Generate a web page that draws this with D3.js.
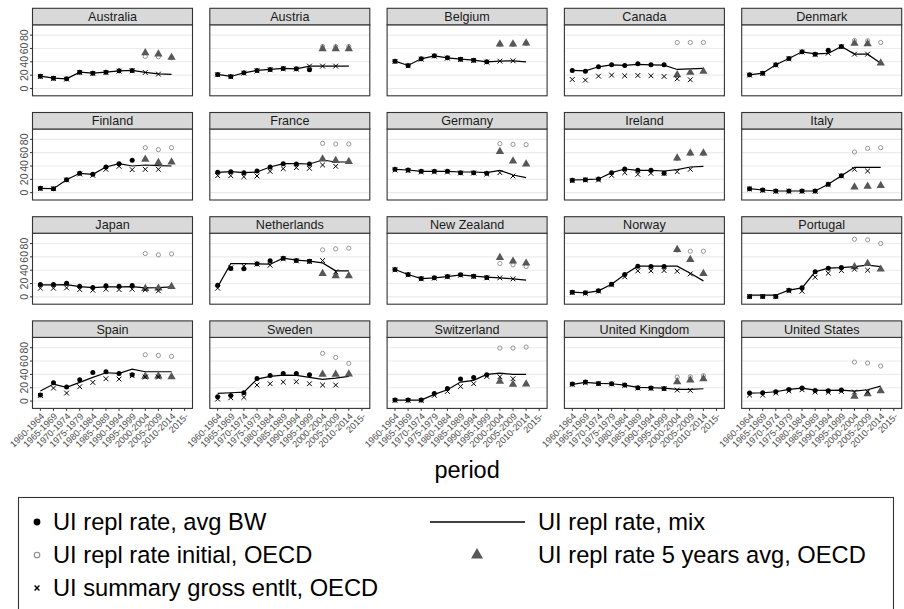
<!DOCTYPE html>
<html>
<head>
<meta charset="utf-8">
<script src="https://cdn.jsdelivr.net/npm/d3@7"></script>
<style>
  body { margin: 0; background: #fff; }
  text { font-family: "Liberation Sans", Arial, sans-serif; }
</style>
</head>
<body>
<div id="chart"></div>
<script>
const countries = ["Australia", "Austria", "Belgium", "Canada", "Denmark",
  "Finland", "France", "Germany", "Ireland", "Italy",
  "Japan", "Netherlands", "New Zealand", "Norway", "Portugal",
  "Spain", "Sweden", "Switzerland", "United Kingdom", "United States"];

const periods = ["1960-1964", "1965-1969", "1970-1974", "1975-1979", "1980-1984", "1985-1989",
  "1990-1994", "1995-1999", "2000-2004", "2005-2009", "2010-2014", "2015-"];

const yTicks = [0, 20, 40, 60, 80];

// UI repl rate, avg BW : 1960-1964 .. 1995-1999
const replAvgBW = [
  [18.5, 15.5, 14.5, 24.5, 23, 24.5, 26.5, 27],
  [21, 18, 23.5, 27, 28.5, 30, 29.5, 28],
  [41, 34.5, 44.5, 49, 46, 44, 42.5, 40],
  [27, 26, 32.5, 35.5, 34.5, 37, 35.5, 35.5],
  [20.5, 23, 35.5, 45, 55, 51.5, 57.5, 63],
  [6.5, 6, 19.5, 29, 27.5, 38.5, 43.5, 48.5],
  [30.5, 31.5, 30, 32.5, 38.5, 43.5, 43, 43],
  [35, 34, 32, 32, 32, 30, 30, 29],
  [18.5, 19.5, 20.5, 30, 35.5, 33.5, 33.5, 29],
  [6, 4, 2.5, 2.5, 2.5, 2.5, 12.5, 25.5],
  [18.5, 18.5, 20.5, 16, 14, 16.5, 16, 17],
  [17.5, 42.5, 42, 49.5, 54, 58, 54.5, 53.5],
  [41, 33.5, 27.5, 28.5, 30.5, 33, 31, 29],
  [7, 6, 9, 19, 33.5, 46, 45.5, 45.5],
  [0.5, 0.5, 0.5, 10, 13.5, 37.5, 43, 44],
  [9, 27.5, 21, 32, 43, 44, 41.5, 39.5],
  [6.5, 8.5, 12.5, 34, 38.5, 41.5, 41.5, 39.5],
  [1.5, 1.5, 1.5, 11.5, 19, 33, 35.5, 39.5],
  [25.5, 28.5, 26.5, 26, 24, 20, 19.5, 19],
  [12, 12.5, 14, 17.5, 19.5, 16, 15.5, 16.5]
];

// UI repl rate, mix : 1960-1964 .. 2010-2014
const replMix = [
  [18.5, 15.5, 14.5, 24.5, 23, 24.5, 26.5, 27, 24, 22, 21],
  [21, 18, 23.5, 27, 28.5, 30, 29.5, 33.5, 33.5, 33.5, 33.5],
  [41, 34.5, 44.5, 49, 46, 44, 42.5, 40, 41, 41.5, 40],
  [27, 26.5, 32.5, 35.5, 34.5, 36, 35.5, 35, 28.5, 29.5, 30],
  [20.5, 23, 35.5, 45, 55, 52, 52.5, 63, 51.5, 51.5, 38],
  [6.5, 6, 19.5, 29, 27.5, 38.5, 43.5, 40, 41.5, 40.5, 40],
  [30.5, 31.5, 30, 31, 38.5, 43.5, 43.5, 43, 49, 46, 46],
  [35, 34, 32, 32, 32, 31, 31, 30, 33.5, 26.5, 22.5],
  [19, 19.5, 20.5, 30, 35.5, 33.5, 33.5, 32.5, 34.5, 38.5, 39.5],
  [6, 4, 2.5, 2.5, 2.5, 2.5, 12.5, 25.5, 38, 38, 38],
  [18, 18, 18.5, 15.5, 14, 15, 15, 15.5, 13.5, 14, 15],
  [15, 50, 50, 49.5, 49, 58, 55, 53.5, 51, 39, 39],
  [41, 33.5, 27.5, 28.5, 30.5, 33, 31, 29.5, 28.5, 27, 25],
  [7, 6, 9, 19, 33.5, 46, 46, 46, 46, 35.5, 24],
  [2.5, 2.5, 2.5, 10, 13.5, 37.5, 43, 44, 45.5, 47.5, 45.5],
  [15, 25.5, 20.5, 28, 35.5, 42.5, 41.5, 48, 44, 44, 44],
  [11.5, 12.5, 13.5, 33, 37, 39, 38.5, 35.5, 32.5, 34.5, 37],
  [1.5, 1.5, 1.5, 10, 17, 28.5, 31, 40, 42, 40, 40],
  [25, 28, 26.5, 26, 24, 20.5, 20, 19.5, 17.5, 17.5, 18.5],
  [12, 12.5, 14, 17.5, 19.5, 16.5, 16, 16.5, 15, 17, 22.5]
];

// UI summary gross entlt, OECD : 1960-1964 .. 2005-2009
const grossEntlt = [
  [18, 15, 14, 24, 22.5, 24, 26, 26.5, 24, 21.5],
  [20.5, 17.5, 23, 26.5, 28, 29.5, 29, 33.5, 33.5, 33.5],
  [40.5, 34, 44, 48.5, 45.5, 43.5, 42, 39.5, 41, 41.5],
  [13.5, 12.5, 18.5, 20, 19, 19.5, 19, 18, 14.5, 13],
  [20, 22.5, 35, 44.5, 54.5, 51, 53, 62.5, 51.5, 51.5],
  [6, 6, 19, 28, 26, 35, 39.5, 34.5, 35, 35],
  [25.5, 25.5, 24, 25, 32, 36, 37.5, 36.5, 41.5, 39.5],
  [34, 33, 31, 31, 31, 29.5, 29.5, 28, 30, 25],
  [18, 19, 19, 26, 30, 27.5, 29, 29, 31.5, 35],
  [5.5, 3.5, 2, 2, 2, 2, 12, 25, 35, 32.5],
  [13, 13, 13.5, 11, 10, 11.5, 11, 11.5, 10.5, 9],
  [13, 43.5, 46, 49, 47.5, 57, 54, 53, 54.5, 37.5],
  [40.5, 33, 27, 28, 30, 32.5, 30.5, 28.5, 28.5, 27],
  [6.5, 5.5, 8.5, 18, 30, 39, 39, 39.5, 38.5, 34.5],
  [0.5, 0.5, 0.5, 9, 8.5, 29.5, 35.5, 39.5, 41.5, 40],
  [8.5, 19.5, 12, 21.5, 28, 33.5, 33, 38, 36, 36],
  [3, 5, 5.5, 24, 26, 28.5, 29, 26, 24, 24],
  [1, 1, 1, 8.5, 14.5, 22, 26, 37, 36.5, 33.5],
  [25, 27.5, 26, 25.5, 23.5, 19.5, 19, 18.5, 16.5, 16],
  [9, 9, 12, 15, 17, 13.5, 13, 14.5, 13.5, 14]
];

// OECD series : 2000-2004, 2005-2009, 2010-2014
const oecdPeriods = ["2000-2004", "2005-2009", "2010-2014"];
const replInitial = [
  [48, 47.5, 46], [63, 63, 63], [66, 66, 67.5], [69, 69, 69], [72, 71.5, 69],
  [67.5, 64.5, 67.5], [74, 73, 73], [73.5, 72.5, 72], [51, 58.5, 58.5], [61, 66.5, 67.5],
  [65, 63, 64.5], [70.5, 72, 73], [50, 48, 45.5], [70, 68.5, 68.5], [86.5, 85.5, 80],
  [69.5, 68.5, 67], [71.5, 65.5, 56.5], [79.5, 79.5, 81], [36, 36.5, 38], [58.5, 57, 52.5]
];
const repl5yr = [
  [53.5, 51.5, 46.5], [59.5, 59.5, 59.5], [66.5, 66.5, 68], [20.5, 24, 25.5], [67.5, 67, 38],
  [50, 45, 46], [50.5, 48, 46.5], [61.5, 47.5, 43], [52, 59.5, 59.5], [8.5, 9.5, 10.5],
  [12.5, 13, 15.5], [35, 31.5, 31.5], [59, 53.5, 50.5], [71, 56, 35], [45, 50, 41.5],
  [37, 37.5, 36.5], [40, 40, 40.5], [29.5, 25, 25.5], [29, 31.5, 33.5], [7, 11, 15.5]
];

const width = 904, height = 609;
const ncol = 5;
const panelW = 160, colStep = 177.3, left0 = 32.5;
const stripH = 16.5, plotH = 71, rowStep = 104.2, top0 = 8.3;

const crossPath = "M-2.4,-2.4L2.4,2.4M-2.4,2.4L2.4,-2.4";
const triangle = d3.symbol(d3.symbolTriangle, 30);
const triangleBig = d3.symbol(d3.symbolTriangle, 62);

const svg = d3.select("#chart").append("svg")
  .attr("width", width)
  .attr("height", height);

countries.forEach(function (name, i) {
  const col = i % ncol, row = Math.floor(i / ncol);
  const x0 = left0 + col * colStep;
  const yTop = top0 + row * rowStep;
  const pTop = yTop + stripH, pBot = pTop + plotH;

  const x = d3.scalePoint().domain(periods).range([x0, x0 + panelW]).padding(0.6);
  const y = d3.scaleLinear().domain([-11, 95.5]).range([pBot, pTop]);

  const g = svg.append("g");

  // grid
  g.selectAll("line.grid").data(yTicks).enter().append("line")
    .attr("x1", x0).attr("x2", x0 + panelW)
    .attr("y1", d => y(d)).attr("y2", d => y(d))
    .attr("stroke", "#ebebeb").attr("stroke-width", 1.1);

  // mix line
  g.append("path")
    .attr("d", d3.line().x((d, k) => x(periods[k])).y(d => y(d))(replMix[i]))
    .attr("fill", "none").attr("stroke", "#000").attr("stroke-width", 1.2);

  // avg BW dots
  g.selectAll("circle.bw").data(replAvgBW[i]).enter().append("circle")
    .attr("cx", (d, k) => x(periods[k])).attr("cy", d => y(d))
    .attr("r", 2.5).attr("fill", "#000");

  // initial OECD
  g.selectAll("circle.init").data(replInitial[i]).enter().append("circle")
    .attr("cx", (d, k) => x(oecdPeriods[k])).attr("cy", d => y(d))
    .attr("r", 2.1).attr("fill", "none").attr("stroke", "#8a8a8a").attr("stroke-width", 0.9);

  // 5 years avg OECD
  g.selectAll("path.tri").data(repl5yr[i]).enter().append("path")
    .attr("d", triangle)
    .attr("transform", (d, k) => "translate(" + x(oecdPeriods[k]) + "," + y(d) + ")")
    .attr("fill", "#575757");

  // gross entitlement crosses
  g.selectAll("path.cross").data(grossEntlt[i]).enter().append("path")
    .attr("d", crossPath)
    .attr("transform", (d, k) => "translate(" + x(periods[k]) + "," + y(d) + ")")
    .attr("fill", "none").attr("stroke", "#000").attr("stroke-width", 1);

  // panel border
  g.append("rect")
    .attr("x", x0).attr("y", pTop).attr("width", panelW).attr("height", plotH)
    .attr("fill", "none").attr("stroke", "#333").attr("stroke-width", 1.1);

  // strip
  g.append("rect")
    .attr("x", x0).attr("y", yTop).attr("width", panelW).attr("height", stripH)
    .attr("fill", "#d9d9d9").attr("stroke", "#333").attr("stroke-width", 1.1);
  g.append("text")
    .attr("x", x0 + panelW / 2).attr("y", yTop + stripH / 2 + 4.5)
    .attr("text-anchor", "middle").attr("font-size", "12.6px").attr("fill", "#1a1a1a")
    .text(name);

  // y axis on first column
  if (col === 0) {
    g.selectAll("line.yt").data(yTicks).enter().append("line")
      .attr("x1", x0 - 2.5).attr("x2", x0)
      .attr("y1", d => y(d)).attr("y2", d => y(d))
      .attr("stroke", "#333").attr("stroke-width", 1);
    g.selectAll("text.yl").data(yTicks).enter().append("text")
      .attr("transform", d => "translate(" + (x0 - 4.5) + "," + y(d) + ") rotate(-90)")
      .attr("text-anchor", "middle").attr("font-size", "10.5px").attr("fill", "#4d4d4d")
      .text(d => d);
  }

  // x axis on last row
  if (row === 3) {
    g.selectAll("line.xt").data(periods).enter().append("line")
      .attr("x1", d => x(d)).attr("x2", d => x(d))
      .attr("y1", pBot).attr("y2", pBot + 2.5)
      .attr("stroke", "#333").attr("stroke-width", 1);
    g.selectAll("text.xl").data(periods).enter().append("text")
      .attr("transform", d => "translate(" + (x(d) + 4.5) + "," + (pBot + 8.5) + ") rotate(-45)")
      .attr("text-anchor", "end").attr("font-size", "9.2px").attr("fill", "#4d4d4d")
      .text(d => d);
  }
});

// x axis title
svg.append("text")
  .attr("x", left0 + (4 * colStep + panelW) / 2).attr("y", 478)
  .attr("text-anchor", "middle").attr("font-size", "23.5px").attr("fill", "#000")
  .text("period");

// legend
const legend = svg.append("g");
legend.append("rect")
  .attr("x", 18.5).attr("y", 497.5).attr("width", 875).attr("height", 120)
  .attr("fill", "#fff").attr("stroke", "#333").attr("stroke-width", 1.1);

const legendRows = [522, 555, 588];
const legendLeft = [
  { label: "UI repl rate, avg BW", key: "dot" },
  { label: "UI repl rate initial, OECD", key: "ring" },
  { label: "UI summary gross entlt, OECD", key: "cross" }
];
const legendRight = [
  { label: "UI repl rate, mix", key: "line" },
  { label: "UI repl rate 5 years avg, OECD", key: "tri" }
];

function drawKey(k, cx, cy) {
  if (k === "dot") legend.append("circle").attr("cx", cx).attr("cy", cy).attr("r", 3.4).attr("fill", "#000");
  if (k === "ring") legend.append("circle").attr("cx", cx).attr("cy", cy).attr("r", 2.8)
    .attr("fill", "none").attr("stroke", "#8a8a8a").attr("stroke-width", 1.1);
  if (k === "cross") legend.append("path").attr("d", crossPath)
    .attr("transform", "translate(" + cx + "," + cy + ")")
    .attr("fill", "none").attr("stroke", "#000").attr("stroke-width", 1.4);
  if (k === "tri") legend.append("path").attr("d", triangleBig)
    .attr("transform", "translate(" + cx + "," + cy + ")").attr("fill", "#575757");
  if (k === "line") legend.append("line").attr("x1", 430).attr("x2", 525)
    .attr("y1", cy).attr("y2", cy).attr("stroke", "#000").attr("stroke-width", 1.6);
}

legendLeft.forEach(function (d, i) {
  drawKey(d.key, 37, legendRows[i]);
  legend.append("text").attr("x", 53).attr("y", legendRows[i] + 8.3)
    .attr("font-size", "23.7px").attr("fill", "#000").text(d.label);
});
legendRight.forEach(function (d, i) {
  drawKey(d.key, 477, legendRows[i]);
  legend.append("text").attr("x", 538).attr("y", legendRows[i] + 8.3)
    .attr("font-size", "23.7px").attr("fill", "#000").text(d.label);
});
</script>
</body>
</html>
